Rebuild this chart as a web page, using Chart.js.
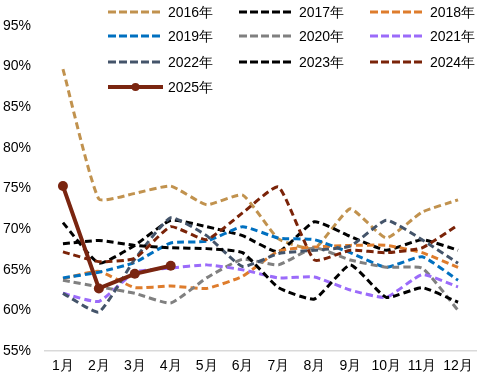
<!DOCTYPE html>
<html><head><meta charset="utf-8">
<script src="https://cdn.jsdelivr.net/npm/chart.js@4/dist/chart.umd.min.js"></script>
<style>html,body{margin:0;padding:0;background:#fff}#wrap{width:485px;height:382px;position:relative}</style>
</head><body><div id="wrap"><canvas id="c" width="485" height="382"></canvas></div>
<script>
const months = ['1月','2月','3月','4月','5月','6月','7月','8月','9月','10月','11月','12月'];
const seriesNames = ['2016年','2017年','2018年','2019年','2020年','2021年','2022年','2023年','2024年','2025年'];
const s2016 = [89.7, 73.7, 74.4, 75.3, 73.0, 74.2, 68.8, 67.6, 72.5, 68.9, 72.1, 73.6];
const s2017 = [70.8, 65.8, 68.0, 71.1, 70.3, 69.2, 67.2, 70.9, 69.1, 67.4, 68.7, 67.4];
const s2018 = [63.9, 64.8, 62.8, 63.0, 62.7, 64.2, 67.3, 67.8, 68.0, 68.0, 67.1, 65.3];
const s2019 = [64.0, 64.7, 65.9, 68.3, 68.5, 70.3, 68.9, 68.7, 67.1, 65.3, 66.6, 63.7];
const s2020 = [63.7, 62.9, 62.1, 60.9, 64.0, 66.3, 65.6, 67.7, 66.2, 65.3, 65.2, 60.0];
const s2021 = [62.1, 61.1, 64.7, 65.2, 65.6, 65.0, 64.0, 64.1, 62.5, 61.6, 64.4, 62.9];
const s2022 = [62.1, 59.8, 66.3, 71.4, 69.2, 65.4, 67.0, 67.4, 67.9, 71.1, 68.7, 65.8];
const s2023 = [68.2, 68.6, 68.0, 67.7, 67.6, 67.1, 62.8, 61.4, 65.6, 61.6, 62.8, 61.0];
const s2024 = [67.2, 66.0, 66.4, 70.3, 68.7, 72.0, 75.2, 66.2, 67.4, 67.1, 67.7, 70.5];
const s2025 = [75.3, 62.7, 64.5, 65.5];
const yTicks = [55, 60, 65, 70, 75, 80, 85, 90, 95];

const colors = ['#C1924E','#000000','#DE7C2C','#0070C0','#808080','#9B6BFA','#44546A','#000000','#7A2308','#7A2510'];
const values = [s2016,s2017,s2018,s2019,s2020,s2021,s2022,s2023,s2024,s2025];
const DASH = [7,4];
const FONT = '"Liberation Sans", Arial, sans-serif';

const datasets = values.map((v,i)=>{
  const last = i === values.length-1;
  return {
    label: seriesNames[i],
    data: v,
    borderColor: colors[i],
    backgroundColor: colors[i],
    borderWidth: last ? 4 : 3,
    borderDash: last ? [] : DASH,
    pointRadius: last ? 5 : 0,
    pointHoverRadius: last ? 5 : 0,
    pointBackgroundColor: colors[i],
    pointBorderWidth: 0,
    tension: last ? 0 : 0.15,
    fill: false,
    order: values.length - i
  };
});

const legendPlugin = {
  id: 'customLegend',
  afterDraw(chart){
    const ctx = chart.ctx;
    ctx.save();
    const colX = [108, 239, 370];
    const rowY = [12, 36, 62, 87];
    chart.data.datasets.forEach((ds,i)=>{
      const col = i % 3, row = Math.floor(i/3);
      const x = colX[col], y = rowY[row];
      ctx.strokeStyle = ds.borderColor;
      ctx.lineWidth = ds.borderWidth;
      ctx.setLineDash(ds.borderDash.length ? [8,3] : []);
      ctx.beginPath(); ctx.moveTo(x, y); ctx.lineTo(x+55, y); ctx.stroke();
      ctx.setLineDash([]);
      if (ds.pointRadius > 0) {
        ctx.fillStyle = ds.borderColor;
        ctx.beginPath(); ctx.arc(x+27.5, y, 4, 0, Math.PI*2); ctx.fill();
      }
      ctx.fillStyle = '#000';
      ctx.font = '14px ' + FONT;
      ctx.textBaseline = 'middle';
      ctx.textAlign = 'left';
      ctx.fillText(ds.label, x+60, y+1);
    });
    ctx.restore();
  }
};

new Chart(document.getElementById('c'), {
  type: 'line',
  data: { labels: months, datasets },
  options: {
    responsive: false,
    animation: false,
    events: [],
    layout: { padding: { top: 26, right: 9, bottom: 0, left: 0 } },
    plugins: { legend: { display: false }, tooltip: { enabled: false } },
    scales: {
      x: {
        offset: true,
        afterFit(scale){ scale.height = 31; },
        grid: { display: false, drawTicks: false, offset: true },
        border: { display: true, color: '#D9D9D9', width: 1.5 },
        ticks: { color: '#000', font: { family: FONT, size: 14 }, padding: 7, maxRotation: 0, autoSkip: false }
      },
      y: {
        min: 55, max: 95,
        afterBuildTicks(scale){ scale.ticks = yTicks.map(v=>({value:v})); },
        afterFit(scale){ scale.width = 45; },
        grid: { display: false, drawTicks: false },
        border: { display: false },
        ticks: { color: '#000', font: { family: FONT, size: 14 }, padding: 14, callback: v => v + '%' }
      }
    }
  },
  plugins: [legendPlugin]
});
</script></body></html>
